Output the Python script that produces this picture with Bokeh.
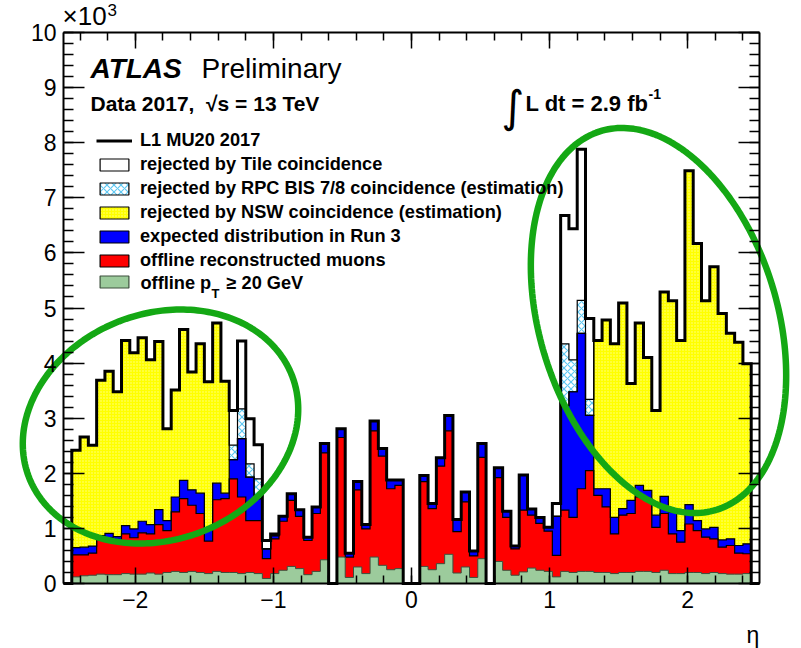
import numpy as np
from bokeh.plotting import figure
from bokeh.models import (FixedTicker, LinearAxis, Range1d, Label, Legend, LegendItem)
from bokeh.embed import file_html
from bokeh.resources import INLINE

# ---------------- data (units of 10^3) ----------------
eta_min, eta_max, n_bins = -2.52, 2.52, 84

# L1 MU20 2017 (total, black outline)
l1 = [0, 2.42, 2.66, 2.51, 3.69, 3.85, 3.48, 4.41, 4.19, 4.46, 4.06, 4.39, 2.81, 3.51,
      4.61, 3.84, 4.35, 3.66, 4.73, 3.67, 3.14, 4.40, 2.99, 2.52, 0.78, 0.90, 1.22, 1.63,
      1.34, 0.84, 1.39, 2.54, 0, 2.81, 0.55, 1.85, 1.07, 2.95, 2.45, 1.88, 1.88, 0,
      0, 1.96, 1.45, 2.28, 3.05, 1.16, 1.66, 0.59, 2.54, 0, 2.10, 1.31, 0.68, 1.97,
      1.35, 1.20, 1.02, 1.45, 6.68, 6.44, 7.88, 4.81, 4.41, 4.78, 4.35, 5.09, 3.63, 4.73,
      4.10, 3.14, 5.29, 5.13, 4.41, 7.49, 6.17, 5.13, 5.75, 4.90, 4.54, 4.38, 3.99, 0]
# after Tile coincidence (top of the RPC BIS 7/8 hatched area)
tile = [0, 2.42, 2.66, 2.51, 3.69, 3.85, 3.48, 4.41, 4.19, 4.46, 4.06, 4.39, 2.81, 3.51,
        4.61, 3.84, 4.35, 3.66, 4.73, 3.67, 2.51, 3.17, 2.17, 1.90, 0.63, 0.87, 1.22, 1.63,
        1.34, 0.84, 1.39, 2.54, 0, 2.81, 0.55, 1.85, 1.07, 2.95, 2.45, 1.88, 1.88, 0,
        0, 1.96, 1.45, 2.28, 3.05, 1.16, 1.66, 0.59, 2.54, 0, 2.10, 1.31, 0.68, 1.97,
        1.35, 1.20, 1.02, 1.22, 4.35, 4.06, 5.14, 3.34, 4.41, 4.78, 4.35, 5.09, 3.63, 4.73,
        4.10, 3.14, 5.29, 5.13, 4.41, 7.49, 6.17, 5.13, 5.75, 4.90, 4.54, 4.38, 3.99, 0]
# after RPC BIS 7/8 coincidence (top of the NSW yellow area)
rpc = [0, 2.42, 2.66, 2.51, 3.69, 3.85, 3.48, 4.41, 4.19, 4.46, 4.06, 4.39, 2.81, 3.51,
       4.61, 3.84, 4.35, 3.66, 4.73, 3.67, 2.25, 2.63, 1.93, 1.54, 0.63, 0.87, 1.22, 1.63,
       1.34, 0.84, 1.39, 2.54, 0, 2.81, 0.55, 1.85, 1.07, 2.95, 2.45, 1.88, 1.88, 0,
       0, 1.96, 1.45, 2.28, 3.05, 1.16, 1.66, 0.59, 2.54, 0, 2.10, 1.31, 0.68, 1.97,
       1.35, 1.20, 1.02, 1.22, 3.23, 3.48, 4.54, 3.05, 4.41, 4.78, 4.35, 5.09, 3.63, 4.73,
       4.10, 3.14, 5.29, 5.13, 4.41, 7.49, 6.17, 5.13, 5.75, 4.90, 4.54, 4.38, 3.99, 0]
# expected distribution in Run 3
run3 = [0, 0.65, 0.66, 0.68, 0.87, 0.91, 0.85, 1.05, 0.99, 1.13, 1.07, 1.34, 1.14, 1.57,
        1.87, 1.70, 1.64, 0.99, 1.82, 1.64, 2.25, 2.63, 1.93, 1.54, 0.63, 0.87, 1.22, 1.63,
        1.34, 0.84, 1.39, 2.54, 0, 2.81, 0.55, 1.85, 1.07, 2.95, 2.45, 1.88, 1.88, 0,
        0, 1.96, 1.45, 2.28, 3.05, 1.16, 1.66, 0.59, 2.54, 0, 2.10, 1.31, 0.68, 1.97,
        1.35, 1.20, 1.02, 1.22, 3.23, 3.48, 4.54, 3.05, 1.72, 1.72, 1.20, 1.36, 1.51, 1.78,
        1.69, 1.24, 1.58, 1.30, 0.96, 1.43, 1.14, 0.99, 1.02, 0.79, 0.81, 0.69, 0.72, 0]
# offline reconstructed muons
offline = [0, 0.52, 0.52, 0.55, 0.83, 0.83, 0.80, 0.90, 0.83, 0.92, 0.90, 1.07, 0.96, 1.30,
           1.54, 1.42, 1.27, 0.77, 1.52, 1.54, 1.90, 1.57, 1.14, 1.14, 0.45, 0.81, 1.13, 1.51,
           1.22, 0.78, 1.27, 2.37, 0, 2.65, 0.48, 1.70, 0.99, 2.77, 2.31, 1.72, 1.78, 0,
           0, 1.85, 1.36, 2.13, 2.77, 0.94, 1.48, 0.50, 2.29, 0, 1.92, 1.20, 0.63, 1.33,
           1.24, 1.09, 0.95, 0.51, 1.33, 1.20, 1.72, 2.05, 1.60, 1.39, 0.90, 1.24, 1.27, 1.57,
           1.54, 1.02, 1.27, 0.90, 0.75, 1.08, 0.96, 0.84, 0.81, 0.66, 0.69, 0.55, 0.54, 0]
# offline pT >= 20 GeV
pt20 = [0, 0.12, 0.14, 0.15, 0.17, 0.16, 0.16, 0.18, 0.17, 0.17, 0.19, 0.17, 0.20, 0.22,
        0.20, 0.22, 0.20, 0.18, 0.22, 0.20, 0.20, 0.18, 0.20, 0.18, 0.09, 0.18, 0.24, 0.31,
        0.27, 0.16, 0.22, 0.43, 0, 0.48, 0.11, 0.30, 0.18, 0.48, 0.33, 0.25, 0.27, 0,
        0, 0.31, 0.25, 0.36, 0.53, 0.19, 0.30, 0.11, 0.45, 0, 0.40, 0.24, 0.15, 0.21,
        0.28, 0.24, 0.22, 0.12, 0.22, 0.20, 0.22, 0.22, 0.20, 0.20, 0.18, 0.20, 0.20, 0.22,
        0.22, 0.20, 0.24, 0.18, 0.18, 0.20, 0.20, 0.18, 0.20, 0.18, 0.17, 0.17, 0.18, 0]

x_ticks = [-2, -1, 0, 1, 2]
x_tick_labels = {-2: "\u22122", -1: "\u22121", 0: "0", 1: "1", 2: "2"}
y_ticks = list(range(0, 11))
y_min, y_max = 0, 10

# ---------------- layout ----------------
W, H = 801, 648
FL, FR, FT, FB = 63, 759, 32, 583          # where the axes box sits on the canvas
FONT = "Liberation Sans"

# the frame fills the whole canvas; the axes are pinned to the histogram box
kx = (eta_max - eta_min) / (FR - FL)
ky = (y_max - y_min) / (FB - FT)
X0, X1 = eta_min - FL * kx, eta_max + (W - FR) * kx
Y0, Y1 = y_min - (H - FB) * ky, y_max + FT * ky

p = figure(width=W, height=H, x_range=Range1d(X0, X1), y_range=Range1d(Y0, Y1),
           output_backend="svg", toolbar_location=None,
           x_axis_location=None, y_axis_location=None,
           min_border_left=0, min_border_right=0, min_border_top=0, min_border_bottom=0)
p.grid.visible = False
p.outline_line_color = None
p.background_fill_color = "white"
p.border_fill_color = "white"


def px2x(px):
    return X0 + px * kx


def py2y(py):
    return Y1 - py * ky


edges = np.linspace(eta_min, eta_max, n_bins + 1)


def step_fill(vals, **kw):
    y2 = list(vals) + [vals[-1]]
    return p.varea_step(x=edges, y1=np.zeros(n_bins + 1), y2=y2, step_mode="after", **kw)


def step_outline(vals, **kw):
    xs, ys = [edges[0]], [0.0]
    for i, v in enumerate(vals):
        xs += [edges[i], edges[i + 1]]
        ys += [v, v]
    xs.append(edges[-1])
    ys.append(0.0)
    return p.line(xs, ys, line_join="miter", **kw)


CYAN = "#5ec8f2"
YELLOW = "#ffff00"
GREEN_FILL = "#9ccb9c"
ELL_GREEN = "#14a814"

step_fill(l1, fill_color="white")
step_fill(tile, fill_color="white", hatch_pattern="diagonal_cross", hatch_color=CYAN,
          hatch_scale=7, hatch_weight=1.2)
step_fill(rpc, fill_color=YELLOW, hatch_pattern="dot", hatch_color="white",
          hatch_scale=3, hatch_alpha=0.55)
step_fill(run3, fill_color="#0000ff")
step_fill(offline, fill_color="#ff0000")
step_fill(pt20, fill_color=GREEN_FILL)

step_outline(tile, line_color="black", line_width=1.2)
step_outline(rpc, line_color="black", line_width=1.2)
step_outline(run3, line_color="black", line_width=1.2)
step_outline(offline, line_color="black", line_width=1.2)
step_outline(pt20, line_color="#3c503c", line_width=1.0)
r_l1 = step_outline(l1, line_color="black", line_width=3)

# ---------------- axes (ROOT style box, ticks inside) ----------------
def make_axis(ticker, loc, bounds, labels=True, tick_in=20, minor_in=10, overrides=None):
    ax = LinearAxis(ticker=ticker, fixed_location=loc, bounds=bounds)
    ax.axis_line_color = "black"
    ax.axis_line_width = 2
    ax.major_tick_in = tick_in
    ax.major_tick_out = 0
    ax.minor_tick_in = minor_in
    ax.minor_tick_out = 0
    ax.major_tick_line_width = 1.5
    ax.minor_tick_line_width = 1.5
    ax.major_label_text_font = FONT
    ax.major_label_text_font_size = "23px"
    ax.major_label_standoff = 7
    if labels:
        ax.major_label_text_color = "black"
        if overrides:
            ax.major_label_overrides = overrides
    else:
        ax.major_label_text_color = None
        ax.major_label_overrides = {t: "" for t in ticker.ticks}
    return ax


xt = FixedTicker(ticks=x_ticks, minor_ticks=list(np.round(np.arange(-2.4, 2.41, 0.2), 2)))
yt = FixedTicker(ticks=y_ticks, minor_ticks=list(np.round(np.arange(0, 10.01, 0.2), 2)))

p.add_layout(make_axis(xt, y_min, (eta_min, eta_max), True, 16, 8, x_tick_labels), "below")
p.add_layout(make_axis(xt, y_max, (eta_min, eta_max), False, 16, 8), "above")
p.add_layout(make_axis(yt, eta_min, (y_min, y_max), True, 21, 10), "left")
p.add_layout(make_axis(yt, eta_max, (y_min, y_max), False, 21, 10), "right")

# ---------------- legend ----------------
nan1 = [float("nan")]
dummy = dict(left=nan1, right=nan1, top=nan1, bottom=nan1)
r_tile = p.quad(**dummy, fill_color="white", line_color="black", line_width=1.2)
r_rpc = p.quad(**dummy, fill_color="white", hatch_pattern="diagonal_cross", hatch_color=CYAN,
               hatch_scale=7, hatch_weight=1.2, line_color="black", line_width=1.2)
r_nsw = p.quad(**dummy, fill_color=YELLOW, hatch_pattern="dot", hatch_color="white",
               hatch_scale=3, hatch_alpha=0.55, line_color="black", line_width=1.2)
r_run3 = p.quad(**dummy, fill_color="#0000ff", line_color="black", line_width=1.2)
r_off = p.quad(**dummy, fill_color="#ff0000", line_color="black", line_width=1.2)
r_pt = p.quad(**dummy, fill_color=GREEN_FILL, line_color="#3c503c", line_width=1.2)

legend = Legend(items=[
    LegendItem(label="L1 MU20 2017", renderers=[r_l1]),
    LegendItem(label="rejected by Tile coincidence", renderers=[r_tile]),
    LegendItem(label="rejected by RPC BIS 7/8 coincidence (estimation)", renderers=[r_rpc]),
    LegendItem(label="rejected by NSW coincidence (estimation)", renderers=[r_nsw]),
    LegendItem(label="expected distribution in Run 3", renderers=[r_run3]),
    LegendItem(label="offline reconstructed muons", renderers=[r_off]),
    LegendItem(label=" ", renderers=[r_pt]),
], location=(96, 359))
legend.background_fill_alpha = 0
legend.border_line_color = None
legend.padding = 0
legend.margin = 0
legend.spacing = 3
legend.glyph_width = 36
legend.glyph_height = 15
legend.label_height = 15
legend.label_standoff = 8
legend.label_text_font = FONT
legend.label_text_font_style = "bold"
legend.label_text_font_size = "18.2px"
legend.label_text_color = "black"
p.add_layout(legend, "center")


def add_label(text, px, py, size, style="normal", font=FONT, align="left"):
    # py is the vertical centre of the text on the canvas
    p.add_layout(Label(x=px2x(px), y=py2y(py), text=text, text_font=font,
                       text_font_size=f"{size}px", text_font_style=style,
                       text_color="black", text_align=align, text_baseline="middle"))


# last legend row: offline p_T >= 20 GeV
add_label("offline p", 140, 282, 18.2, "bold")
add_label("T", 211, 293, 13, "bold")
add_label("\u2265 20 GeV", 226, 282, 18.2, "bold")

# ---------------- texts ----------------
add_label("\u00d710", 62, 15, 26)
add_label("3", 107, 9, 17)
add_label("ATLAS", 90, 68, 28, "bold italic")
add_label("Preliminary", 201, 68, 28)
add_label("Data 2017,\u00a0\u00a0\u221as = 13 TeV", 90, 103, 21, "bold")
add_label("\u222b", 501, 106, 44, font="DejaVu Sans")
add_label("L dt = 2.9 fb", 525, 103, 22, "bold")
add_label("-1", 648, 93, 14, "bold")
add_label("\u03b7", 746, 634, 23)

# ---------------- green ellipses ----------------
def ellipse(cx, cy, a, b, phi_deg, n=240):
    t = np.linspace(0, 2 * np.pi, n)
    ph = np.deg2rad(phi_deg)
    u, v = a * np.cos(t), b * np.sin(t)
    sx = cx + u * np.cos(ph) - v * np.sin(ph)
    sy = cy + u * np.sin(ph) + v * np.cos(ph)
    return [px2x(s) for s in sx], [py2y(s) for s in sy]


for (cx, cy, a, b, phi) in [(160, 426, 141, 113, -21), (658, 320, 198, 119, 73)]:
    xs, ys = ellipse(cx, cy, a, b, phi)
    p.line(xs, ys, line_color=ELL_GREEN, line_width=6.5)

open("out.html", "w").write(file_html(p, INLINE))
